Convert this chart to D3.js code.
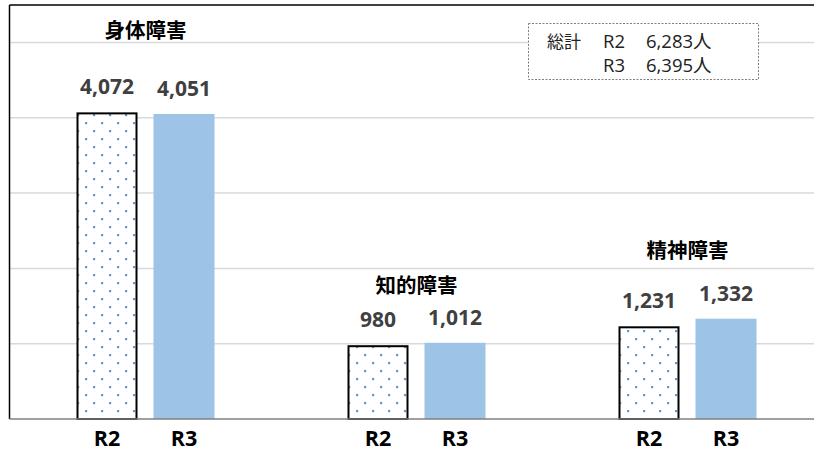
<!DOCTYPE html>
<html>
<head>
<meta charset="utf-8">
<script src="https://cdn.jsdelivr.net/npm/d3@7"></script>
<style>
  html, body { margin: 0; padding: 0; background: #fff; }
  svg { display: block; }
</style>
</head>
<body>
<svg id="chart" width="814" height="452"></svg>
<script>
// Disability certificate holders by category, fiscal R2 vs R3
const categories = ["身体障害", "知的障害", "精神障害"];
const years = ["R2", "R3"];
const valuesR2 = [4072, 980, 1231];
const valuesR3 = [4051, 1012, 1332];
const gridTicks = [1000, 2000, 3000, 4000, 5000];
const totalLabel = "総計";
const totals = [["R2", "6,283人"], ["R3", "6,395人"]];

// layout
const W = 814, H = 452;
const plot = { left: 10, right: 823, top: 5, bottom: 419 };
const titleCenterY = [31, 286, 251];
const CJK = "'Noto Sans CJK JP', 'Noto Sans', sans-serif";
const LATIN = "'Open Sans', 'Noto Sans', sans-serif";

const svg = d3.select("#chart");

const x0 = d3.scaleBand().domain(categories).range([plot.left, plot.right]).padding(0);
const x1 = d3.scaleBand().domain(years).range([0, x0.bandwidth()])
  .paddingInner(16 / 77).paddingOuter(66.5 / 77);
const y = d3.scaleLinear().domain([0, 5000]).range([plot.bottom, 42.5]);

// dotted fill for the R2 bars
const defs = svg.append("defs");
const pat = defs.append("pattern")
  .attr("id", "dots").attr("patternUnits", "userSpaceOnUse")
  .attr("width", 16).attr("height", 16).attr("x", 3).attr("y", 2);
pat.append("rect").attr("width", 16).attr("height", 16).attr("fill", "#fff");
pat.append("rect").attr("x", 0).attr("y", 0).attr("width", 2.2).attr("height", 2.2).attr("fill", "#5b9bd5");
pat.append("rect").attr("x", 8).attr("y", 8).attr("width", 2.2).attr("height", 2.2).attr("fill", "#5b9bd5");

// gridlines
svg.append("g")
  .selectAll("line").data(gridTicks).join("line")
  .attr("x1", plot.left).attr("x2", W)
  .attr("y1", d => y(d)).attr("y2", d => y(d))
  .attr("stroke", "#d9d9d9").attr("stroke-width", 1.5);

// frame: top and left edges
svg.append("line").attr("x1", plot.left - 0.5).attr("x2", W)
  .attr("y1", plot.top).attr("y2", plot.top)
  .attr("stroke", "#000").attr("stroke-width", 1.5);
svg.append("line").attr("x1", plot.left - 0.5).attr("x2", plot.left - 0.5)
  .attr("y1", plot.top).attr("y2", plot.bottom)
  .attr("stroke", "#000").attr("stroke-width", 1.5);

const rows = categories.map((c, i) => ({
  cat: c, i,
  bars: [
    { year: "R2", value: valuesR2[i] },
    { year: "R3", value: valuesR3[i] }
  ]
}));

const groups = svg.append("g").selectAll("g").data(rows).join("g")
  .attr("transform", d => `translate(${x0(d.cat)},0)`);

// bars
groups.selectAll("rect.bar").data(d => d.bars).join("rect")
  .attr("class", "bar")
  .attr("x", d => d.year === "R2" ? x1(d.year) + 1 : x1(d.year))
  .attr("y", d => d.year === "R2" ? y(d.value) + 1 : y(d.value))
  .attr("width", d => d.year === "R2" ? x1.bandwidth() - 2 : x1.bandwidth())
  .attr("height", d => d.year === "R2" ? y(0) - y(d.value) - 1 : y(0) - y(d.value))
  .attr("fill", d => d.year === "R2" ? "url(#dots)" : "#9dc3e6")
  .attr("stroke", d => d.year === "R2" ? "#000" : "none")
  .attr("stroke-width", 2);

// value labels
groups.selectAll("text.val").data(d => d.bars).join("text")
  .attr("class", "val")
  .attr("x", d => x1(d.year) + x1.bandwidth() / 2)
  .attr("y", d => y(d.value) - 18)
  .attr("text-anchor", "middle")
  .attr("font-family", LATIN).attr("font-weight", 700).attr("font-size", 21)
  .attr("fill", "#404040")
  .text(d => d3.format(",")(d.value));

// category titles
groups.append("text")
  .attr("x", x0.bandwidth() / 2)
  .attr("y", d => titleCenterY[d.i])
  .attr("dy", "0.36em")
  .attr("text-anchor", "middle")
  .attr("font-family", CJK).attr("font-weight", 700).attr("font-size", 20.5)
  .attr("fill", "#000")
  .text(d => d.cat);

// baseline
svg.append("line").attr("x1", plot.left - 0.5).attr("x2", W)
  .attr("y1", plot.bottom).attr("y2", plot.bottom)
  .attr("stroke", "#808080").attr("stroke-width", 1.5);

// year labels under bars
groups.selectAll("text.yr").data(d => d.bars).join("text")
  .attr("class", "yr")
  .attr("x", d => x1(d.year) + x1.bandwidth() / 2)
  .attr("y", 445.5)
  .attr("text-anchor", "middle")
  .attr("font-family", LATIN).attr("font-weight", 700).attr("font-size", 21.5)
  .attr("fill", "#000")
  .text(d => d.year);

// totals box
const box = svg.append("g");
box.append("rect")
  .attr("x", 528.5).attr("y", 23.5).attr("width", 230).attr("height", 56)
  .attr("fill", "#fff").attr("stroke", "#7f7f7f").attr("stroke-width", 1)
  .attr("stroke-dasharray", "2,1.5");
box.append("text").attr("x", 547).attr("y", 48)
  .attr("font-family", CJK).attr("font-size", 17).attr("fill", "#222")
  .text(totalLabel);
totals.forEach((t, k) => {
  const by = 48 + k * 23.5;
  box.append("text").attr("x", 603).attr("y", by)
    .attr("font-family", LATIN).attr("font-size", 18.5).attr("fill", "#222")
    .text(t[0]);
  box.append("text").attr("x", 646).attr("y", by)
    .attr("font-family", LATIN).attr("font-size", 18.5).attr("fill", "#222")
    .text(t[1].replace("人", ""))
    .append("tspan").attr("font-family", CJK).text("人");
});
</script>
</body>
</html>
